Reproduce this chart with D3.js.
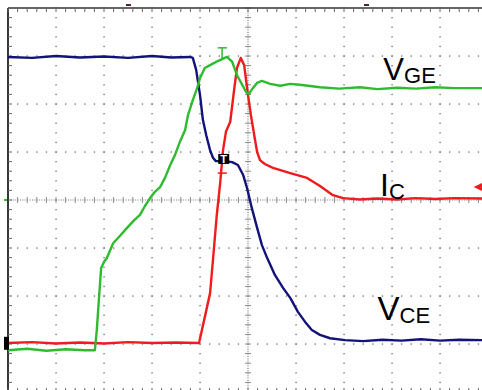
<!DOCTYPE html>
<html>
<head>
<meta charset="utf-8">
<script src="https://cdn.jsdelivr.net/npm/d3@7"></script>
<style>
  html, body { margin: 0; padding: 0; background: #ffffff; }
  svg { display: block; font-family: "Liberation Sans", Arial, sans-serif; }
</style>
</head>
<body>
<svg id="chart" width="482" height="390"></svg>
<script>
// ---- Data (grid divisions: time 0..10, amplitude -4..+4, centre = 0) ----
const vceTime = [0, 0.5, 1.0, 1.5, 2.0, 2.5, 3.0, 3.4, 3.79, 3.85, 3.92, 4.0, 4.06, 4.13, 4.21, 4.27, 4.33, 4.52, 4.67, 4.79, 4.90, 4.98, 5.08, 5.19, 5.29, 5.40, 5.56, 5.73, 5.88, 6.04, 6.19, 6.33, 6.5, 6.71, 7.02, 7.4, 7.8, 8.2, 8.6, 9.0, 9.4, 9.88];
const vceValue = [2.98, 2.96, 3.0, 2.97, 2.99, 2.96, 3.0, 2.97, 2.98, 2.96, 2.71, 2.19, 1.67, 1.35, 1.04, 0.88, 0.81, 0.81, 0.79, 0.73, 0.52, 0.25, -0.17, -0.58, -0.94, -1.21, -1.56, -1.83, -2.04, -2.33, -2.54, -2.71, -2.81, -2.88, -2.92, -2.94, -2.91, -2.93, -2.90, -2.93, -2.91, -2.92];

const vgeTime = [0, 0.4, 0.8, 1.2, 1.6, 1.81, 1.85, 1.90, 1.94, 2.0, 2.06, 2.19, 2.33, 2.48, 2.63, 2.75, 2.85, 2.96, 3.06, 3.17, 3.27, 3.38, 3.48, 3.58, 3.69, 3.75, 3.85, 3.94, 4.0, 4.10, 4.21, 4.38, 4.56, 4.67, 4.77, 4.88, 4.96, 5.02, 5.10, 5.19, 5.29, 5.46, 5.67, 5.88, 6.08, 6.5, 6.9, 7.33, 7.7, 8.1, 8.5, 8.9, 9.3, 9.88];
const vgeValue = [-3.13, -3.10, -3.14, -3.11, -3.13, -3.13, -2.71, -1.98, -1.42, -1.29, -1.21, -0.90, -0.75, -0.58, -0.42, -0.31, -0.13, 0.04, 0.17, 0.27, 0.46, 0.73, 0.94, 1.21, 1.46, 1.77, 2.08, 2.33, 2.54, 2.75, 2.81, 2.90, 2.98, 2.88, 2.60, 2.40, 2.25, 2.21, 2.33, 2.44, 2.48, 2.42, 2.38, 2.42, 2.40, 2.35, 2.32, 2.35, 2.31, 2.34, 2.32, 2.35, 2.33, 2.33];

const icTime = [0, 0.5, 1.0, 1.5, 2.0, 2.5, 3.0, 3.5, 3.98, 4.04, 4.10, 4.21, 4.27, 4.35, 4.42, 4.48, 4.54, 4.63, 4.71, 4.77, 4.85, 4.92, 4.96, 5.0, 5.06, 5.13, 5.19, 5.25, 5.35, 5.52, 5.88, 6.23, 6.5, 6.77, 6.98, 7.33, 7.7, 8.1, 8.5, 8.9, 9.3, 9.88];
const icValue = [-2.98, -2.96, -2.99, -2.97, -2.99, -2.96, -2.98, -2.97, -2.98, -2.71, -2.44, -1.94, -1.25, -0.31, 0.35, 1.04, 1.42, 1.63, 2.29, 2.75, 2.96, 2.81, 2.50, 2.19, 1.77, 1.35, 1.00, 0.83, 0.75, 0.67, 0.56, 0.46, 0.29, 0.10, 0.04, 0.01, 0.03, 0.01, 0.04, 0.02, 0.04, 0.03];

const traceNames = ["VCE", "VGE", "IC"];
const labelMain = ["V", "V", "I"];
const labelSub = ["CE", "GE", "C"];
const labelPos = [[7.70, -2.50], [7.82, 2.50], [7.75, 0.08]]; // [time, amplitude] of label baseline

const xDivisions = d3.range(0, 11);
const yDivisions = d3.range(-4, 5);

// ---- Drawing ----
const svg = d3.select("#chart");
const W = 482, H = 390;
const x = d3.scaleLinear().domain([0, 10]).range([8, 488]);
const y = d3.scaleLinear().domain([-4, 4]).range([392, 8]);

const minor = d3.range(0, 10.01, 0.2);
const minorY = d3.range(-4, 4.01, 0.2);
const grid = svg.append("g");

// dotted major grid lines (dots at minor positions)
xDivisions.filter(d => d > 0 && d < 10 && d !== 5).forEach(d => {
  grid.selectAll(null).data(minorY).join("rect")
    .attr("x", x(d) - 0.6).attr("y", v => y(v) - 0.6)
    .attr("width", 1.3).attr("height", 1.3).attr("fill", "#6a6a6a");
});
yDivisions.filter(d => d > -4 && d < 4 && d !== 0).forEach(d => {
  grid.selectAll(null).data(minor).join("rect")
    .attr("x", t => x(t) - 0.6).attr("y", y(d) - 0.6)
    .attr("width", 1.3).attr("height", 1.3).attr("fill", "#6a6a6a");
});

// centre axes: fine dotted line with tick marks
grid.append("line").attr("x1", x(0)).attr("x2", W).attr("y1", y(0)).attr("y2", y(0))
  .attr("stroke", "#777").attr("stroke-width", 1.2).attr("stroke-dasharray", "1,1.4");
grid.append("line").attr("x1", x(5)).attr("x2", x(5)).attr("y1", y(4)).attr("y2", H)
  .attr("stroke", "#777").attr("stroke-width", 1.2).attr("stroke-dasharray", "1,1.4");
grid.selectAll(null).data(minor).join("line")
  .attr("x1", t => x(t)).attr("x2", t => x(t))
  .attr("y1", y(0) - 3).attr("y2", y(0) + 3).attr("stroke", "#888").attr("stroke-width", 1);
grid.selectAll(null).data(minorY).join("line")
  .attr("y1", v => y(v)).attr("y2", v => y(v))
  .attr("x1", x(5) - 3).attr("x2", x(5) + 3).attr("stroke", "#888").attr("stroke-width", 1);

// borders with ticks
grid.append("line").attr("x1", x(0)).attr("x2", W).attr("y1", y(4)).attr("y2", y(4))
  .attr("stroke", "#333").attr("stroke-width", 1.5);
grid.append("line").attr("x1", x(0)).attr("x2", x(0)).attr("y1", y(4)).attr("y2", H)
  .attr("stroke", "#222").attr("stroke-width", 1.8);
grid.selectAll(null).data(minor).join("line")
  .attr("x1", t => x(t)).attr("x2", t => x(t))
  .attr("y1", y(4)).attr("y2", y(4) + 4).attr("stroke", "#666").attr("stroke-width", 1);
grid.selectAll(null).data(minorY).join("line")
  .attr("y1", v => y(v)).attr("y2", v => y(v))
  .attr("x1", x(0)).attr("x2", x(0) + 4).attr("stroke", "#666").attr("stroke-width", 1);
grid.selectAll(null).data(minor).join("line")
  .attr("x1", t => x(t)).attr("x2", t => x(t))
  .attr("y1", y(-4) - 4).attr("y2", y(-4)).attr("stroke", "#666").attr("stroke-width", 1);

// traces
const line = d3.line().x(d => x(d[0])).y(d => y(d[1]));
const traces = [
  { name: traceNames[0], t: vceTime, v: vceValue, color: "#12127a" },
  { name: traceNames[2], t: icTime, v: icValue, color: "#ee1c1c" },
  { name: traceNames[1], t: vgeTime, v: vgeValue, color: "#2fbb2f" }
];
traces.forEach(tr => {
  svg.append("path")
    .datum(d3.zip(tr.t, tr.v))
    .attr("d", line)
    .attr("fill", "none")
    .attr("stroke", tr.color)
    .attr("stroke-width", 2.4)
    .attr("stroke-linejoin", "round");
});

// markers
// trigger box
svg.append("rect").attr("x", x(4.38)).attr("y", y(0.96)).attr("width", 11).attr("height", 10).attr("fill", "#000");
svg.append("text").attr("x", x(4.38) + 5.5).attr("y", y(0.96) + 9).attr("text-anchor", "middle")
  .attr("font-size", 11).attr("font-weight", "bold").attr("fill", "#fff").text("T");
// green cursor
svg.append("line").attr("x1", x(4.37)).attr("x2", x(4.56)).attr("y1", y(3.17)).attr("y2", y(3.17)).attr("stroke", "#2fbb2f").attr("stroke-width", 1.5);
svg.append("line").attr("x1", x(4.46)).attr("x2", x(4.46)).attr("y1", y(3.17)).attr("y2", y(2.95)).attr("stroke", "#2fbb2f").attr("stroke-width", 1.5);
// red cursor
svg.append("line").attr("x1", x(4.37)).attr("x2", x(4.56)).attr("y1", y(0.56)).attr("y2", y(0.56)).attr("stroke", "#ee1c1c").attr("stroke-width", 1.5);
// red reference arrow at right
svg.append("path").attr("d", `M${x(9.7)},${y(0.27)} L${W},${y(0.27) - 4} L${W},${y(0.27) + 4} Z`).attr("fill", "#ee1c1c");
// left ground markers
svg.append("rect").attr("x", 4).attr("y", y(-2.85)).attr("width", 5).attr("height", 13).attr("fill", "#000");
svg.append("rect").attr("x", 4).attr("y", y(0) - 1).attr("width", 3).attr("height", 2).attr("fill", "#2fbb2f");
// top small markers
svg.append("rect").attr("x", 126).attr("y", 4).attr("width", 5).attr("height", 2).attr("fill", "#552244");
svg.append("rect").attr("x", 364).attr("y", 4).attr("width", 5).attr("height", 2).attr("fill", "#552244");

// labels
const mainSize = [33, 31, 32], subSize = [22, 22, 22];
labelMain.forEach((m, i) => {
  const t = svg.append("text")
    .attr("x", x(labelPos[i][0])).attr("y", y(labelPos[i][1]))
    .attr("fill", "#000");
  t.append("tspan").attr("font-size", mainSize[i]).text(m);
  t.append("tspan").attr("font-size", subSize[i]).attr("dy", 3).text(labelSub[i]);
});
</script>
</body>
</html>
